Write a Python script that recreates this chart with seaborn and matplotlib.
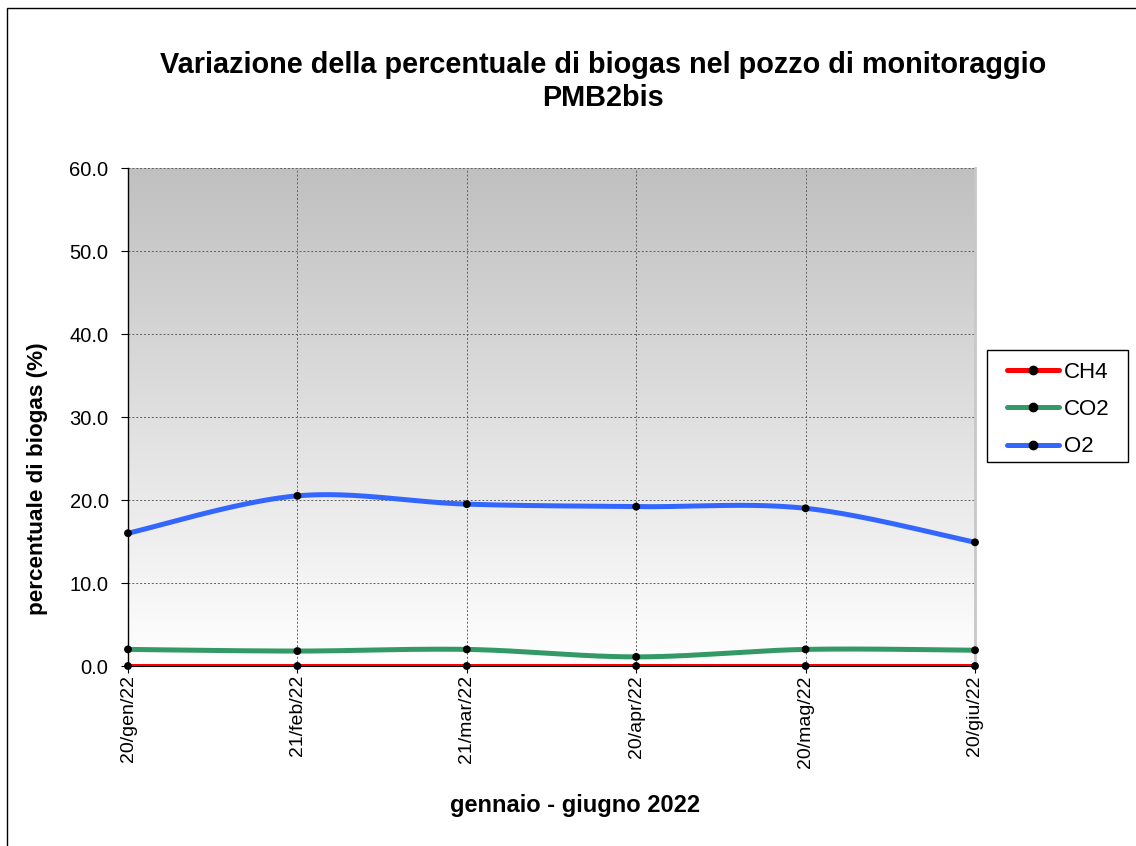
import numpy as np
import pandas as pd
import matplotlib
matplotlib.use("Agg")
import matplotlib.pyplot as plt
from matplotlib.patches import Rectangle
from matplotlib.lines import Line2D
import seaborn as sns

# Monitoring dates and measured gas percentages
dates = ["20/gen/22", "21/feb/22", "21/mar/22", "20/apr/22", "20/mag/22", "20/giu/22"]
ch4 = [0.0, 0.0, 0.0, 0.0, 0.0, 0.0]
co2 = [2.0, 1.8, 2.0, 1.1, 2.0, 1.9]
o2 = [16.0, 20.5, 19.5, 19.2, 19.0, 14.9]

series_names = ["CH4", "CO2", "O2"]
series_values = [ch4, co2, o2]
series_colors = ["#ff0000", "#339966", "#3366ff"]

yticks = [0, 10, 20, 30, 40, 50, 60]

sns.set_style("white")
plt.rcParams["font.family"] = ["Liberation Sans", "DejaVu Sans"]
plt.rcParams["text.color"] = "black"
plt.rcParams["xtick.color"] = "black"
plt.rcParams["ytick.color"] = "black"


def smooth_curve(y, steps=40):
    """Catmull-Rom spline through the points (smoothed line style)."""
    y = np.asarray(y, float)
    x = np.arange(len(y), dtype=float)
    px = np.concatenate([[x[0]], x, [x[-1]]])
    py = np.concatenate([[y[0]], y, [y[-1]]])
    xs, ys = [], []
    for i in range(1, len(px) - 2):
        p0, p1, p2, p3 = py[i - 1], py[i], py[i + 1], py[i + 2]
        q0, q1, q2, q3 = px[i - 1], px[i], px[i + 1], px[i + 2]
        t = np.linspace(0, 1, steps, endpoint=(i == len(px) - 3))
        for a, b, c, d, out in ((q0, q1, q2, q3, xs), (p0, p1, p2, p3, ys)):
            out.append(0.5 * ((2 * b) + (-a + c) * t + (2 * a - 5 * b + 4 * c - d) * t ** 2
                              + (-a + 3 * b - 3 * c + d) * t ** 3))
    return np.concatenate(xs), np.concatenate(ys)


W, H = 1136, 846
fig = plt.figure(figsize=(W / 100, H / 100), dpi=100)
fig.patch.set_facecolor("white")
# Outer chart border
fig.add_artist(Rectangle((7 / W, -0.01), 1.02, 1 - 8 / H + 0.01, transform=fig.transFigure,
                         fill=False, edgecolor="black", linewidth=1.0))

ax = fig.add_axes([128 / W, 1 - 666 / H, (975 - 128) / W, (666 - 168) / H])

n = len(dates)

# Vertical gradient background: grey at top fading to white
grad = np.linspace(1.0, 0.0, 256).reshape(-1, 1)
cmap = matplotlib.colors.LinearSegmentedColormap.from_list("bg", ["#ffffff", "#c0c0c0"])
ax.imshow(grad, aspect="auto", cmap=cmap, extent=[0, n - 1, 0, 60], origin="upper",
          zorder=0, vmin=0, vmax=1)

rows = []
for name, vals in zip(series_names, series_values):
    for i, v in enumerate(vals):
        rows.append({"pos": i, "value": v, "gas": name})
points = pd.DataFrame(rows)

for name, vals, col in zip(series_names, series_values, series_colors):
    xs, ys = smooth_curve(vals)
    curve = pd.DataFrame({"pos": xs, "value": ys})
    sns.lineplot(data=curve, x="pos", y="value", color=col, linewidth=3.6, ax=ax,
                 zorder=3, sort=False)
sns.scatterplot(data=points, x="pos", y="value", color="black", s=32, ax=ax,
                zorder=5, edgecolor="none", legend=False, clip_on=False)

ax.set_xlim(0, n - 1)
ax.set_ylim(0, 60)
ax.set_yticks(yticks)
ax.set_xticks(range(n))
ax.grid(True, color="#606060", linestyle=(0, (2, 2)), linewidth=0.7, zorder=1)

ax.set_yticklabels([f"{v:.1f}" for v in yticks], fontsize=14.5)
ax.set_xticklabels(dates, rotation=90, fontsize=14, va="top")
ax.tick_params(axis="y", which="major", direction="out", length=5, width=0.8, color="black",
               left=True, pad=9)
ax.tick_params(axis="x", which="major", direction="out", length=5, width=0.8, color="black",
               bottom=True, pad=1.5)

ax.spines["top"].set_visible(False)
ax.spines["left"].set_color("black")
ax.spines["left"].set_linewidth(1.0)
ax.spines["bottom"].set_color("black")
ax.spines["right"].set_color("#c8c8c8")
ax.spines["right"].set_linewidth(2)

ax.set_xlabel("")
ax.set_ylabel("")
fig.text(38 / W, 1 - 479 / H, "percentuale di biogas (%)", rotation=90, fontsize=16.2,
         fontweight="bold", ha="center", va="center")
fig.text(575 / W, 1 - 805 / H, "gennaio - giugno 2022", fontsize=17,
         fontweight="bold", ha="center", va="center")
fig.text(603 / W, 1 - 81.5 / H,
         "Variazione della percentuale di biogas nel pozzo di monitoraggio\nPMB2bis",
         fontsize=20.8, fontweight="bold", ha="center", va="center", linespacing=1.25)

# Legend frame and entries with line + dot handles
ax.add_patch(Rectangle((987 / W, 1 - 462 / H), (1128 - 987) / W, (462 - 350) / H,
                       transform=fig.transFigure, facecolor="white", edgecolor="black",
                       linewidth=1.0, zorder=4, clip_on=False))
handles = [Line2D([0], [0], color=c, linewidth=3.6, marker="o", markersize=6,
                  markerfacecolor="black", markeredgecolor="black")
           for c in series_colors]
leg = ax.legend(handles, series_names, loc="upper left",
                bbox_to_anchor=(1007 / W, 1 - 361.5 / H),
                bbox_transform=fig.transFigure, fontsize=16, frameon=False,
                borderpad=0, labelspacing=0.74,
                handlelength=2.35, handletextpad=0.2, borderaxespad=0)
leg.set_zorder(6)

fig.savefig("out.png", dpi=100, facecolor="white")
